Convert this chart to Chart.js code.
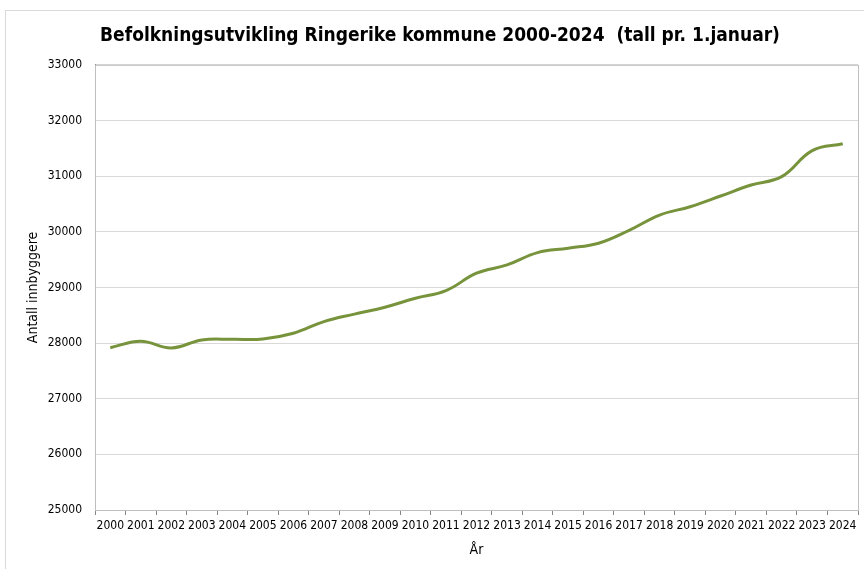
<!DOCTYPE html>
<html>
<head>
<meta charset="utf-8">
<script src="https://cdn.jsdelivr.net/npm/chart.js@4"></script>
<style>
  html, body { margin: 0; padding: 0; background: #fff; }
  #frame { position: absolute; left: 5px; top: 10px; width: 900px; height: 600px; border: 1px solid #d9d9d9; }
  #wrap { position: absolute; left: 0; top: 0; width: 864px; height: 569px; }
</style>
</head>
<body>
<div id="frame"></div>
<div id="wrap"><canvas id="myChart"></canvas></div>
<script>
// Befolkning pr. 1. januar (lest av figuren)
const years = ['2000', '2001', '2002', '2003', '2004', '2005', '2006', '2007', '2008', '2009', '2010', '2011', '2012',
    '2013', '2014', '2015', '2016', '2017', '2018', '2019', '2020', '2021', '2022', '2023', '2024'];
const population = [27917, 28032, 27912, 28056, 28068, 28074, 28176, 28385, 28520, 28644, 28805, 28942, 29255,
    29404, 29625, 29704, 29794, 30025, 30300, 30450, 30642, 30840, 30990, 31458, 31580];
const yMin = 25000;
const yMax = 33000;
const yStep = 1000;

const fontFamily = '"Liberation Sans Narrow", "DejaVu Sans Condensed", "Open Sans", sans-serif';

// draws the grey frame round the plot area
const plotBorder = {
    id: 'plotBorder',
    afterDraw(chart) {
        const a = chart.chartArea;
        const ctx = chart.ctx;
        ctx.save();
        ctx.strokeStyle = '#bfbfbf';
        ctx.lineWidth = 1;
        ctx.strokeRect(a.left + 0.5, a.top + 0.5, a.right - a.left, a.bottom - a.top);
        ctx.restore();
    }
};

const config = {
    type: 'line',
    data: {
        labels: years,
        datasets: [{
            label: 'Antall innbyggere',
            data: population,
            borderColor: '#77933c',
            borderWidth: 3,
            pointRadius: 0,
            tension: 0.4,
            fill: false
        }]
    },
    options: {
        responsive: true,
        maintainAspectRatio: false,
        animation: false,
        layout: {
            padding: { left: 22, right: 6, top: 0, bottom: 0 }
        },
        plugins: {
            legend: { display: false },
            tooltip: { enabled: false },
            title: {
                display: true,
                text: 'Befolkningsutvikling Ringerike kommune 2000-2024  (tall pr. 1.januar)',
                color: '#000',
                font: { family: fontFamily, size: 19, weight: 'bold' },
                padding: { top: 25, bottom: 17 }
            }
        },
        scales: {
            x: {
                offset: true,
                grid: {
                    drawOnChartArea: false,
                    offset: true,
                    tickLength: 5,
                    color: '#868686'
                },
                border: { color: '#868686' },
                ticks: {
                    color: '#000',
                    maxRotation: 0,
                    autoSkip: false,
                    padding: 4,
                    font: { family: fontFamily, size: 12 }
                },
                title: {
                    display: true,
                    text: 'År',
                    color: '#000',
                    font: { family: fontFamily, size: 14 },
                    padding: { top: 0, bottom: 10 }
                },
                afterFit(scale) { scale.height = 59; }
            },
            y: {
                min: yMin,
                max: yMax,
                grid: {
                    color: '#d9d9d9',
                    drawTicks: false
                },
                border: { color: '#868686' },
                ticks: {
                    stepSize: yStep,
                    color: '#000',
                    padding: 13,
                    font: { family: fontFamily, size: 12 },
                    callback: function (value) {
                        return String(value); // no thousands separator
                    }
                },
                title: {
                    display: true,
                    text: 'Antall innbyggere',
                    color: '#000',
                    font: { family: fontFamily, size: 14 },
                    padding: { top: 3, bottom: 0 }
                },
                afterFit(scale) { scale.width = 73; }
            }
        }
    },
    plugins: [plotBorder]
};

const myChart = new Chart(document.getElementById('myChart'), config);
</script>
</body>
</html>
